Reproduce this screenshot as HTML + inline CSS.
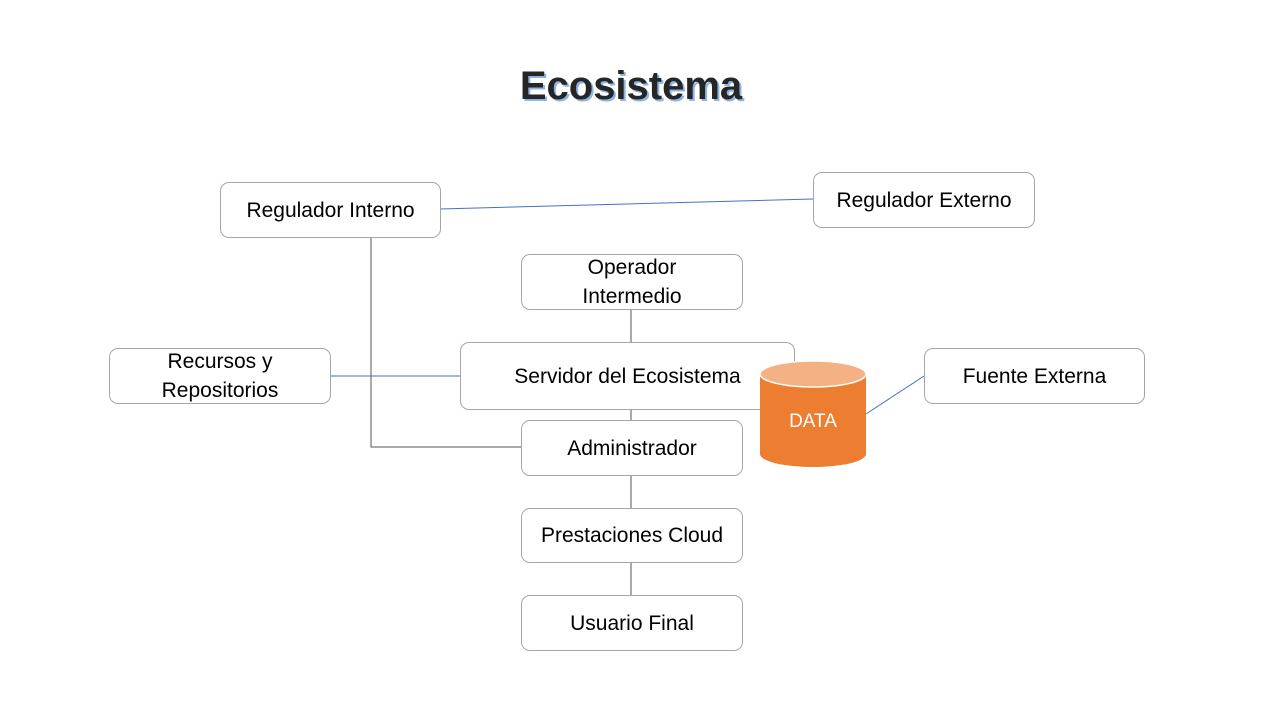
<!DOCTYPE html>
<html><head><meta charset="utf-8"><style>
body{margin:0;width:1280px;height:720px;background:#fff;position:relative;overflow:hidden;font-family:"Liberation Sans",sans-serif}
.b{position:absolute;box-sizing:border-box;border:1px solid #a6a6a6;border-radius:9px;background:#fff;display:flex;align-items:center;justify-content:center;text-align:center;font-size:21px;line-height:29px;color:#000;white-space:nowrap}
h1{position:absolute;left:0;width:1262px;top:64px;margin:0;text-align:center;font-size:40px;font-weight:bold;color:#262626;text-shadow:2px 2px 0 #8db4e2}
</style></head><body>
<h1>Ecosistema</h1>
<svg width="1280" height="720" style="position:absolute;left:0;top:0">
<line x1="440" y1="209" x2="813" y2="199" stroke="#4472c4" stroke-width="1"/>
<polyline points="371,237 371,447 521,447" fill="none" stroke="#555" stroke-width="1"/>
<line x1="330" y1="376" x2="460" y2="376" stroke="#4472c4"/>
<line x1="631" y1="309" x2="631" y2="342" stroke="#555"/>
<line x1="631" y1="409" x2="631" y2="420" stroke="#555"/>
<line x1="631" y1="475" x2="631" y2="508" stroke="#555"/>
<line x1="631" y1="562" x2="631" y2="595" stroke="#555"/>
<line x1="866" y1="414" x2="924" y2="376" stroke="#4472c4"/>
</svg>
<div class="b" style="left:220px;top:182px;width:221px;height:56px">Regulador Interno</div>
<div class="b" style="left:813px;top:172px;width:222px;height:56px">Regulador Externo</div>
<div class="b" style="left:521px;top:254px;width:222px;height:56px">Operador<br>Intermedio</div>
<div class="b" style="left:460px;top:342px;width:335px;height:68px">Servidor del Ecosistema</div>
<div class="b" style="left:109px;top:348px;width:222px;height:56px">Recursos y<br>Repositorios</div>
<div class="b" style="left:924px;top:348px;width:221px;height:56px">Fuente Externa</div>
<div class="b" style="left:521px;top:420px;width:222px;height:56px">Administrador</div>
<div class="b" style="left:521px;top:508px;width:222px;height:55px">Prestaciones Cloud</div>
<div class="b" style="left:521px;top:595px;width:222px;height:56px">Usuario Final</div>
<svg width="1280" height="720" style="position:absolute;left:0;top:0">
<path d="M760,374 L760,454 A53,13 0 0 0 866,454 L866,374 Z" fill="#ed7d31"/>
<ellipse cx="813" cy="374" rx="53" ry="13" fill="#f4b183" stroke="#fff" stroke-width="1.5"/>
<text x="813" y="427" text-anchor="middle" font-family="Liberation Sans,sans-serif" font-size="19" fill="#fff">DATA</text>
</svg>
</body></html>
